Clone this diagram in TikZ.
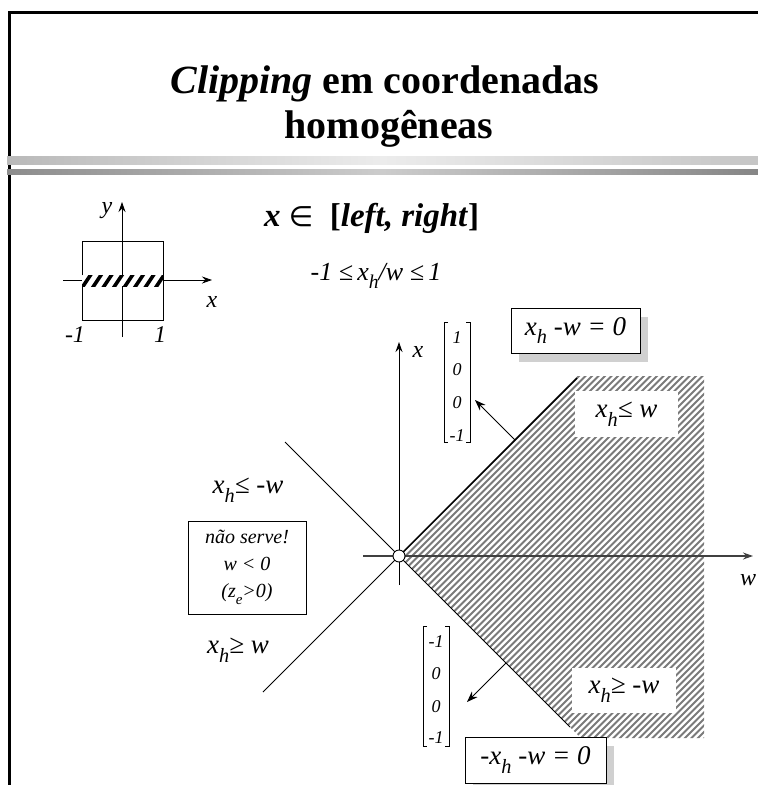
\documentclass[tikz,border=0pt]{standalone}
\usepackage{fontspec}
\setmainfont{Liberation Serif}
\newfontfamily\symfont{DejaVu Sans}
\usepackage{graphicx}
\usetikzlibrary{arrows.meta,shadows}
\newcommand{\hsub}[1]{\raisebox{-0.32em}{\scalebox{0.75}{#1}}}
\definecolor{shadowgray}{HTML}{D0D0D0}
\definecolor{hatchgray}{HTML}{7A7A7A}
\tikzset{
  ax/.style={line width=1pt,-{Stealth[length=10pt,width=7pt]}},
  lbl/.style={font=\itshape\fontsize{24}{26}\selectfont,inner sep=0pt},
  big/.style={font=\itshape\fontsize{27}{29}\selectfont,inner sep=0pt},
  ent/.style={font=\itshape\fontsize{18}{20}\selectfont,inner sep=0pt},
  eqbox/.style={draw,line width=1pt,fill=white,font=\itshape\fontsize{27}{29}\selectfont,
    drop shadow={shadow xshift=8pt,shadow yshift=-9pt,fill=shadowgray,opacity=1}},
  gapbox/.style={fill=white,inner sep=0pt,font=\itshape\fontsize{27}{29}\selectfont},
  hatchline/.style={hatchgray,line width=1.8pt},
  brk/.style={line width=0.8pt},
  nrm/.style={line width=0.9pt,-{Stealth[length=11pt,width=8pt]}}
}
\begin{document}
\begin{tikzpicture}[x=1pt,y=-1pt]
\useasboundingbox (0,0) rectangle (758,785);
% frame
\draw[line width=3pt] (9,785) -- (9,12) -- (758,12);
% title
\node[font=\bfseries\fontsize{40}{40}\selectfont,anchor=base,inner sep=0pt] (t1) at (385,93) {\textit{Clipping} em coordenadas};
\node[font=\bfseries\fontsize{40}{40}\selectfont,anchor=base,inner sep=0pt] (t2) at (389,138) {homogêneas};
% bars
\shade[left color=gray!55,right color=gray!45,middle color=gray!15] (7,156) rectangle (758,164);
\shade[left color=gray!90,right color=gray!95,middle color=gray!40] (7,169) rectangle (758,174);
% small diagram
\draw[line width=0.8pt] (82,241) rectangle (163,320);
\coordinate (vb) at (122,337); \coordinate (vt) at (122,202);
\coordinate (hl) at (63,280); \coordinate (hr) at (212,280);
\draw[ax,line width=0.8pt] (vb) -- (vt);
\draw[ax,line width=0.8pt] (hl) -- (hr);
\fill[white] (82,275) rectangle (163,286);
\begin{scope}
\clip (82,275) rectangle (163,286);
\foreach \t in {70,80.5,...,170} \draw[line width=3.6pt] (\t,290) -- ++(12,-18);
\end{scope}
\node[lbl] (ly) at (107,211) {y};
\node[lbl] (lx) at (212,302) {x};
\node[lbl] (lm1) at (75,335) {-1};
\node[lbl] (lp1) at (160,335) {1};
% headings
\node[font=\bfseries\fontsize{33}{35}\selectfont,anchor=base west,inner sep=0pt] (xin) at (264,226) {\textit{x} {\symfont\mdseries\scalebox{0.85}{∈}}\ \ [\textit{left, right}]};
\node[font=\itshape\fontsize{26}{28}\selectfont,inner sep=0pt,anchor=base] (ineq) at (376,280) {-1 ≤\,x\hsub{h}/w ≤\,1};
% hatched region
\begin{scope}
\clip (399,556) -- (577,376) -- (704,376) -- (704,738) -- (581,738) -- cycle;
\foreach \t in {0,6.5,...,740} \draw[hatchline] (\t,760) -- ++(420,-420);
\end{scope}
\node[gapbox,minimum width=103pt,minimum height=46pt] (g1) at (626.5,414) {x\hsub{h}≤ w};
\node[gapbox,minimum width=104pt,minimum height=45pt] (g2) at (624,690.5) {x\hsub{h}≥ -w};
% diagonal lines
\coordinate (o) at (399,556);
\coordinate (d1a) at (285,442); \coordinate (d1b) at (570,727);
\coordinate (d2a) at (263,692); \coordinate (d2b) at (577,378);
\draw[line width=0.9pt] (d1a) -- (d1b);
\draw[line width=0.9pt] (d2a) -- (o);
\draw[line width=1.4pt] (o) -- (d2b);
% axes
\coordinate (wl) at (363,556); \coordinate (wr) at (753,556);
\coordinate (xb) at (399,585); \coordinate (xt) at (399,342);
\draw[ax,line width=1.3pt,black!75] (wl) -- (wr);
\draw[ax] (xb) -- (xt);
\node[draw,circle,fill=white,line width=0.9pt,minimum size=12pt,inner sep=0pt] (oc) at (o) {};
\node[lbl] (lxa) at (418,352) {x};
\node[lbl] (lw) at (748,580) {w};
% normals
\coordinate (n1a) at (515,440); \coordinate (n1b) at (475,400);
\coordinate (n2a) at (506,663); \coordinate (n2b) at (467,702);
\draw[nrm] (n1a) -- (n1b);
\draw[nrm] (n2a) -- (n2b);
% top matrix
\draw[brk] (448,322) -- (444,322) -- (444,442) -- (448,442);
\draw[brk] (466,322) -- (470,322) -- (470,442) -- (466,442);
\node[ent] (m11) at (457,338) {1};
\node[ent] (m12) at (457,370) {0};
\node[ent] (m13) at (457,403) {0};
\node[ent] (m14) at (457,436) {-1};
% bottom matrix
\draw[brk] (427,626) -- (423,626) -- (423,746) -- (427,746);
\draw[brk] (445,626) -- (449,626) -- (449,746) -- (445,746);
\node[ent] (m21) at (436,642) {-1};
\node[ent] (m22) at (436,674) {0};
\node[ent] (m23) at (436,707) {0};
\node[ent] (m24) at (436,738) {-1};
% equation boxes
\node[eqbox,minimum width=129pt,minimum height=45pt,inner sep=0pt] (e1) at (575.5,330.5) {x\hsub{h} -w = 0};
\node[eqbox,minimum width=141pt,minimum height=46pt,inner sep=0pt] (e2) at (535.5,760) {-x\hsub{h} -w = 0};
% left labels
\node[big] (l1) at (248,490) {x\hsub{h}≤ -w};
\node[big] (l2) at (238,650) {x\hsub{h}≥ w};
\node[draw,line width=0.9pt,minimum width=118pt,minimum height=93pt] (nb) at (247,567.5) {};
\node[font=\itshape\fontsize{20}{27}\selectfont,align=center,inner sep=0pt] (nt) at (nb.center) {não serve!\\w < 0\\(z\hsub{e}>0)};
\end{tikzpicture}
\end{document}
